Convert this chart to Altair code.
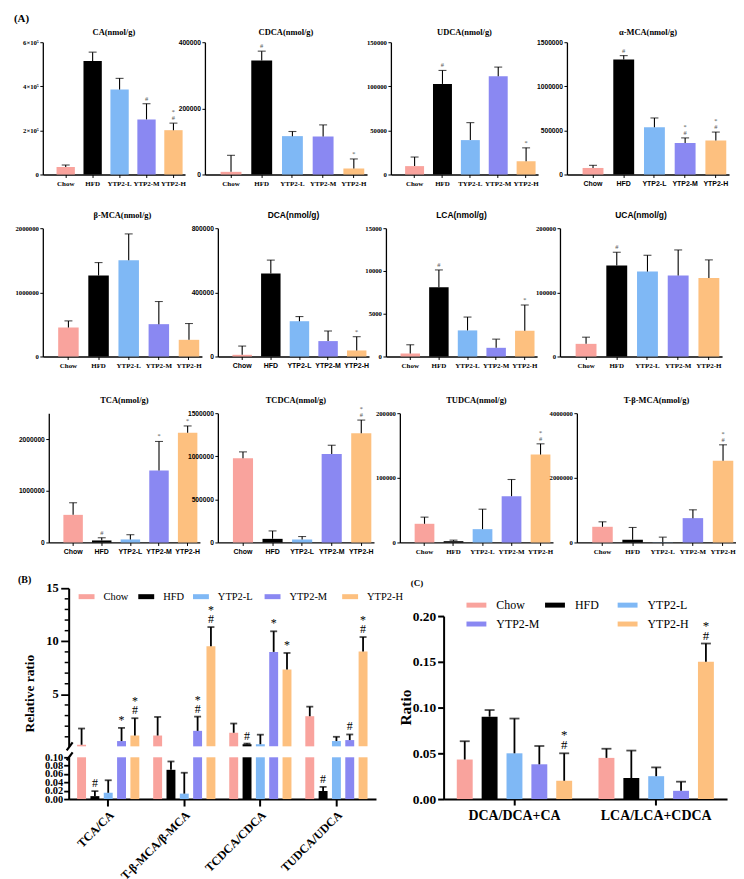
import altair as alt
import pandas as pd

SERIF = "Liberation Serif"
SANS = "Liberation Sans"

GROUPS = ["Chow", "HFD", "YTP2-L", "YTP2-M", "YTP2-H"]
COLORS = ["#F9A39D", "#000000", "#7FB8F5", "#8A88F2", "#FDC07F"]
UDCA_LABELS = ["Chow", "HFD", "TYP2-L", "YTP2-M", "YTP2-H"]

# ---------------- Panel A (mean, SD, significance) ----------------
CA_mean = [34000, 515000, 386000, 250000, 201000]
CA_sd = [9000, 40000, 50000, 71000, 32000]
CA_sig = ["", "", "", "#", "*#"]

CDCA_mean = [8000, 345000, 116000, 115000, 18000]
CDCA_sd = [50000, 28000, 14000, 35000, 29000]
CDCA_sig = ["", "#", "", "", "*"]

UDCA_mean = [9500, 102700, 39000, 111500, 14900]
UDCA_sd = [10300, 15300, 19800, 10300, 15300]
UDCA_sig = ["", "#", "", "", "*"]

aMCA_mean = [74000, 1304000, 537000, 356000, 385000]
aMCA_sd = [30000, 44000, 104000, 59000, 96000]
aMCA_sig = ["", "#", "", "*#", "*#"]

bMCA_mean = [452000, 1262000, 1500000, 504000, 260000]
bMCA_sd = [103000, 202000, 411000, 353000, 254000]
bMCA_sig = ["", "", "", "", ""]

DCA_mean = [10500, 517000, 220000, 96000, 37700]
DCA_sd = [54500, 84000, 29000, 63000, 85800]
DCA_sig = ["", "", "", "", "*"]

LCA_mean = [350, 8090, 3050, 1015, 3010]
LCA_sd = [1020, 2030, 1560, 1015, 3010]
LCA_sig = ["", "#", "", "", "*"]

UCA_mean = [19700, 141700, 132400, 126200, 122500]
UCA_sd = [10400, 20800, 25400, 39900, 28100]
UCA_sig = ["", "#", "", "", ""]

TCA_mean = [534000, 39000, 58600, 1393000, 2122000]
TCA_sd = [234000, 52000, 91400, 560000, 131000]
TCA_sig = ["", "#", "", "*", "*"]

TCDCA_mean = [978000, 42000, 34500, 1025000, 1266000]
TCDCA_sd = [73000, 92000, 34500, 103000, 154000]
TCDCA_sig = ["", "", "", "", "*#"]

TUDCA_mean = [28900, 2000, 20600, 71600, 136000]
TUDCA_sd = [10300, 1600, 30900, 25800, 16600]
TUDCA_sig = ["", "", "", "", "*#"]

TbMCA_mean = [485000, 82000, 5000, 753000, 2526000]
TbMCA_sd = [154000, 382000, 160000, 257000, 495000]
TbMCA_sig = ["", "", "", "", "*#"]

# ---------------- Panel B (relative ratios) ----------------
B_CATS = ["TCA/CA", "T-β-MCA/β-MCA", "TCDCA/CDCA", "TUDCA/UDCA"]
B_Chow_mean = [0.25, 1.12, 1.38, 2.94]
B_Chow_sd = [1.53, 1.75, 0.87, 0.90]
B_Chow_sig = ["", "", "", ""]
B_HFD_mean = [0.007, 0.070, 0.30, 0.019]
B_HFD_sd = [0.012, 0.020, 0.06, 0.010]
B_HFD_sig = ["#", "", "#", "#"]
B_L_mean = [0.015, 0.013, 0.30, 0.60]
B_L_sd = [0.030, 0.050, 0.90, 0.40]
B_L_sig = ["", "", "", ""]
B_M_mean = [0.60, 1.56, 9.00, 0.69]
B_M_sd = [1.24, 1.34, 1.94, 0.53]
B_M_sig = ["*", "*#", "*", "#"]
B_H_mean = [1.12, 9.53, 7.34, 9.03]
B_H_sd = [1.63, 1.81, 1.56, 1.37]
B_H_sig = ["*#", "*#", "*", "*#"]
B_BREAK = 0.1
B_MAJOR = [5, 10, 15]
B_MINOR = [1, 2, 3, 4, 6, 7, 8, 9, 11, 12, 13, 14]

# ---------------- Panel C (ratios) ----------------
C_CATS = ["DCA/DCA+CA", "LCA/LCA+CDCA"]
C_Chow_mean = [0.0432, 0.045]
C_Chow_sd = [0.020, 0.010]
C_HFD_mean = [0.090, 0.023]
C_HFD_sd = [0.0073, 0.030]
C_L_mean = [0.050, 0.025]
C_L_sd = [0.038, 0.0096]
C_M_mean = [0.038, 0.009]
C_M_sd = [0.020, 0.010]
C_H_mean = [0.020, 0.150]
C_H_sd = [0.030, 0.020]
C_sig = {"YTP2-H": ["*#", "*#"]}


def _pt(y):
    return (alt.Chart(pd.DataFrame({"v": [0]}))
            .mark_point(size=1, opacity=0, strokeWidth=0)
            .encode(x=alt.value(0), y=alt.value(y)))


def spacer(w=1, h=1):
    return _pt(0).properties(width=w, height=h)


def label_text(txt, x, y, size, weight="bold", font=SERIF, angle=0, align="left"):
    return (alt.Chart(pd.DataFrame({"t": [txt]}))
            .mark_text(font=font, fontSize=size, fontWeight=weight, color="black",
                       align=align, baseline="middle", angle=angle)
            .encode(x=alt.value(x), y=alt.value(y), text="t:N"))


def lead(w, h, top, bottom, extra=()):
    # invisible anchors that fix the row's extent above and below the plots
    return alt.layer(_pt(-top), _pt(h + bottom), *extra).properties(width=w, height=h)


def sig_rows(cats, tops, sigs, series=None):
    rows = []
    for c, t, s in zip(cats, tops, sigs):
        for k, ch in enumerate(reversed(s)):
            r = {"cat": c, "top": t, "sym": ch, "rank": k}
            if series is not None:
                r["series"] = series
            rows.append(r)
    return rows


def label_map_expr(keys, labels):
    expr = "datum.label"
    for k, lab in zip(keys, labels):
        if k != lab:
            expr = f"datum.value === '{k}' ? '{lab}' : " + expr
    return expr


def panel_a(title, mean, sd, sig, ymax, ystep, w, h, labels=GROUPS,
            tfont=SERIF, xfont=SERIF, yfont=SERIF, lexpr=None, tpos=10):
    top = [m + s for m, s in zip(mean, sd)]
    df = pd.DataFrame({"cat": GROUPS, "mean": mean, "top": top})
    xaxis = alt.Axis(title=None, labelAngle=0, labelFont=xfont, labelFontSize=7,
                     labelFontWeight="bold", labelColor="black", labelPadding=2,
                     labelExpr=label_map_expr(GROUPS, labels),
                     tickSize=3, tickWidth=1, tickColor="black",
                     domainColor="black", domainWidth=1.3)
    ykw = dict(title=None, values=list(range(0, ymax + 1, ystep)), format="d",
               labelFont=yfont, labelFontSize=6.7, labelFontWeight="bold",
               labelColor="black", labelPadding=1.5, tickSize=3, tickWidth=1,
               tickColor="black", domainColor="black", domainWidth=1.3, grid=False,
               labelOverlap=False)
    if lexpr:
        ykw["labelExpr"] = lexpr
    x = alt.X("cat:N", sort=GROUPS,
              scale=alt.Scale(paddingInner=0.32, paddingOuter=0.3, align=0.85),
              axis=xaxis)
    xs = alt.X("cat:N", sort=GROUPS)
    y = alt.Y("mean:Q", scale=alt.Scale(domain=[0, ymax], nice=False),
              axis=alt.Axis(**ykw))
    base = alt.Chart(df)
    bars = base.mark_bar().encode(
        x=x, y=y,
        color=alt.Color("cat:N", scale=alt.Scale(domain=GROUPS, range=COLORS), legend=None))
    err = base.mark_rule(color="black", strokeWidth=1.1).encode(x=xs, y="mean:Q", y2="top:Q")
    cap = base.mark_tick(color="black", thickness=1.1, size=8).encode(x=xs, y="top:Q")
    layers = [bars, err, cap]
    rows = sig_rows(GROUPS, top, sig)
    if rows:
        sdf = pd.DataFrame(rows)
        for k, dy in ((0, -2), (1, -8)):
            sub = sdf[sdf["rank"] == k]
            if len(sub):
                layers.append(
                    alt.Chart(sub).mark_text(font=SERIF, fontSize=6.5, color="#555",
                                             baseline="bottom", dy=dy)
                    .encode(x=xs, y="top:Q", text="sym:N"))
    layers.append(label_text(title, w / 2, -tpos, 8.5, font=tfont, align="center"))
    return alt.layer(*layers).properties(width=w, height=h)


CA_EXPR = "datum.value == 0 ? '0' : (datum.value / 100000) + '×10⁵'"

H1, H2, H3, H4 = 133, 129, 130, 212
T1, T2, T3, T4 = 31, 20, 20, 20
row1 = alt.hconcat(
    lead(29, H1, T1, 54 - T2 - 2, extra=[label_text("(A)", 0, -23, 11)]),
    panel_a("CA(nmol/g)", CA_mean, CA_sd, CA_sig, 600000, 200000, 143, H1, lexpr=CA_EXPR),
    spacer(w=20),
    panel_a("CDCA(nmol/g)", CDCA_mean, CDCA_sd, CDCA_sig, 400000, 100000, 163, H1,
            yfont=SANS),
    spacer(w=24),
    panel_a("UDCA(nmol/g)", UDCA_mean, UDCA_sd, UDCA_sig, 150000, 50000, 148, H1,
            labels=UDCA_LABELS),
    spacer(w=29),
    panel_a("α-MCA(nmol/g)", aMCA_mean, aMCA_sd, aMCA_sig, 1500000, 500000, 163, H1,
            xfont=SANS, yfont=SANS),
    spacing=0, bounds="flush")

row2 = alt.hconcat(
    lead(29, H2, T2, 55 - T3),
    panel_a("β-MCA(nmol/g)", bMCA_mean, bMCA_sd, bMCA_sig, 2000000, 500000, 160, H2, tpos=13),
    spacer(w=16),
    panel_a("DCA(nmol/g)", DCA_mean, DCA_sd, DCA_sig, 800000, 200000, 152, H2,
            tfont=SANS, xfont=SANS, yfont=SANS, tpos=13),
    spacer(w=17),
    panel_a("LCA(nmol/g)", LCA_mean, LCA_sd, LCA_sig, 15000, 5000, 152, H2,
            tfont=SANS, tpos=13),
    spacer(w=23),
    panel_a("UCA(nmol/g)", UCA_mean, UCA_sd, UCA_sig, 200000, 50000, 163, H2,
            tfont=SANS, tpos=13),
    spacing=0, bounds="flush")

row3 = alt.hconcat(
    lead(35, H3, T3, 44 - T4),
    panel_a("TCA(nmol/g)", TCA_mean, TCA_sd, TCA_sig, 2500000, 500000, 152, H3,
            xfont=SANS, yfont=SANS, tpos=13),
    spacer(w=18),
    panel_a("TCDCA(nmol/g)", TCDCA_mean, TCDCA_sd, TCDCA_sig, 1500000, 500000, 157, H3,
            xfont=SANS, yfont=SANS, tpos=13),
    spacer(w=26),
    panel_a("TUDCA(nmol/g)", TUDCA_mean, TUDCA_sd, TUDCA_sig, 200000, 50000, 154, H3, tpos=13),
    spacer(w=24),
    panel_a("T-β-MCA(nmol/g)", TbMCA_mean, TbMCA_sd, TbMCA_sig, 4000000, 1000000, 160, H3, tpos=13),
    spacing=0, bounds="flush")

# ---------------- Panel B (broken y axis, two scales in one view) ----------------
B_series = [
    (B_Chow_mean, B_Chow_sd, B_Chow_sig),
    (B_HFD_mean, B_HFD_sd, B_HFD_sig),
    (B_L_mean, B_L_sd, B_L_sig),
    (B_M_mean, B_M_sd, B_M_sig),
    (B_H_mean, B_H_sd, B_H_sig),
]
b_rows, b_sig = [], []
for g, (mn, sdv, sg) in zip(GROUPS, B_series):
    tops = [m + s for m, s in zip(mn, sdv)]
    for c, m, t in zip(B_CATS, mn, tops):
        b_rows.append({"cat": c, "series": g, "mean": m, "top": t,
                       "ulo": max(m, B_BREAK), "lmean": min(m, B_BREAK), "brk": B_BREAK})
    b_sig += sig_rows(B_CATS, tops, sg, series=g)
bdf = pd.DataFrame(b_rows)
bsig = pd.DataFrame(b_sig)

B_W = 309
B_UH, B_LTOP = 159, 170

bcol = alt.Color("series:N", scale=alt.Scale(domain=GROUPS, range=COLORS), legend=None)
bxo = alt.XOffset("series:N", sort=GROUPS,
                  scale=alt.Scale(paddingInner=0.33, paddingOuter=0.52))
bxos = alt.XOffset("series:N", sort=GROUPS)
b_xaxis = alt.Axis(
    title=None, labelAngle=-45, labelFont=SERIF, labelFontSize=12, labelFontWeight="bold",
    labelColor="black", labelPadding=3, tickSize=7, tickWidth=2, tickColor="black",
    domainColor="black", domainWidth=2)
bx = alt.X("cat:N", sort=B_CATS, scale=alt.Scale(paddingInner=0, paddingOuter=0.02), axis=b_xaxis)
bxs = alt.X("cat:N", sort=B_CATS)

upper_axis = alt.Axis(
    title=None, orient="left", values=B_MAJOR, labels=False,
    tickSize=8, tickWidth=1.8, tickColor="black",
    domainColor="black", domainWidth=2, grid=False)
upper_scale = alt.Scale(domain=[B_BREAK, 15], range=[B_UH, 0], nice=False, zero=False)

ub = alt.Chart(bdf)
up_high = ub.transform_filter(f"datum.mean > {B_BREAK}")
up_err = ub.transform_filter(f"datum.top > {B_BREAK}")
upper_layers = [
    up_high.mark_bar().encode(x=bx, xOffset=bxo,
                              y=alt.Y("mean:Q", scale=upper_scale, axis=upper_axis),
                              y2="brk:Q", color=bcol),
    up_err.mark_rule(color="black", strokeWidth=1.8).encode(
        x=bxs, xOffset=bxos, y="ulo:Q", y2="top:Q"),
    up_err.mark_tick(color="black", thickness=1.8, size=7).encode(
        x=bxs, xOffset=bxos, y="top:Q"),
    alt.Chart(pd.DataFrame({"mean": B_MINOR})).mark_rule(color="black", strokeWidth=1.5)
    .encode(x=alt.value(-4), x2=alt.value(0), y="mean:Q"),
    alt.Chart(pd.DataFrame({"mean": B_MAJOR, "lab": [str(v) for v in B_MAJOR]}))
    .mark_text(font=SERIF, fontSize=12.5, fontWeight="bold", color="black",
               align="right", baseline="middle")
    .encode(x=alt.value(-10), y="mean:Q", text="lab:N"),
]
usig = bsig[bsig["top"] > B_BREAK]
for k, dy in ((0, -1), (1, -10)):
    sub = usig[usig["rank"] == k]
    if len(sub):
        upper_layers.append(alt.Chart(sub).mark_text(font=SERIF, fontSize=12, color="black",
                                                     baseline="bottom", dy=dy)
                            .encode(x=bxs, xOffset=bxos, y="top:Q", text="sym:N"))
upper = alt.layer(*upper_layers)

lower_axis = alt.Axis(
    title=None, orient="left", values=[0, 0.02, 0.04, 0.06, 0.08, 0.1], format=".2f",
    labelFont=SERIF, labelFontSize=10.5, labelFontWeight="bold", labelColor="black",
    labelPadding=1, tickSize=5, tickWidth=1.8, tickColor="black", labelOverlap=False,
    domainColor="black", domainWidth=2, grid=False)
lower_scale = alt.Scale(domain=[0, B_BREAK], range=[H4, B_LTOP], nice=False)
lb = alt.Chart(bdf)
low_err = lb.transform_filter(f"datum.top <= {B_BREAK}")
lower_layers = [
    lb.mark_bar().encode(x=bx, xOffset=bxo,
                         y=alt.Y("lmean:Q", scale=lower_scale, axis=lower_axis), color=bcol),
    low_err.mark_rule(color="black", strokeWidth=1.8).encode(
        x=bxs, xOffset=bxos, y="mean:Q", y2="top:Q"),
    low_err.mark_tick(color="black", thickness=1.8, size=7).encode(
        x=bxs, xOffset=bxos, y="top:Q"),
]
lsig = bsig[bsig["top"] <= B_BREAK]
for k, dy in ((0, -1), (1, -10)):
    sub = lsig[lsig["rank"] == k]
    if len(sub):
        lower_layers.append(alt.Chart(sub).mark_text(font=SERIF, fontSize=12, color="black",
                                                     baseline="bottom", dy=dy)
                            .encode(x=bxs, xOffset=bxos, y="top:Q", text="sym:N"))
lower = alt.layer(*lower_layers)

b_deco = []
LEG_B_X = [10, 70, 125, 197, 275]
for i, g in enumerate(GROUPS):
    b_deco.append(
        alt.Chart(pd.DataFrame({"t": [g]})).mark_rect(color=COLORS[i])
        .encode(x=alt.value(LEG_B_X[i]), x2=alt.value(LEG_B_X[i] + 16),
                y=alt.value(6), y2=alt.value(11)))
    b_deco.append(
        alt.Chart(pd.DataFrame({"t": [g]})).mark_text(font=SERIF, fontSize=10.5, color="black",
                                                      align="left", baseline="middle")
        .encode(x=alt.value(LEG_B_X[i] + 25), y=alt.value(8.5), text="t:N"))
b_deco.append(label_text("(B)", -51, -8, 10))
b_deco.append(label_text("Relative ratio", -39, 106, 13.5, angle=270, align="center"))
for y0 in (B_UH, B_LTOP - 1):
    b_deco.append(
        alt.Chart(pd.DataFrame({"t": [0]})).mark_rule(color="black", strokeWidth=2.2)
        .encode(x=alt.value(-2), x2=alt.value(4), y=alt.value(y0 + 4), y2=alt.value(y0 - 4)))

panel_b = alt.layer(upper, lower, *b_deco).resolve_scale(y="independent").properties(
    width=B_W, height=H4)

# ---------------- Panel C ----------------
C_series = [
    (C_Chow_mean, C_Chow_sd), (C_HFD_mean, C_HFD_sd), (C_L_mean, C_L_sd),
    (C_M_mean, C_M_sd), (C_H_mean, C_H_sd),
]
c_rows, c_sig = [], []
for g, (mn, sdv) in zip(GROUPS, C_series):
    tops = [m + s for m, s in zip(mn, sdv)]
    for c, m, t in zip(C_CATS, mn, tops):
        c_rows.append({"cat": c, "series": g, "mean": m, "top": t})
    c_sig += sig_rows(C_CATS, tops, C_sig.get(g, ["", ""]), series=g)
cdf = pd.DataFrame(c_rows)
csig = pd.DataFrame(c_sig)

C_W, C_TOP = 285, 28
cx = alt.X("cat:N", sort=C_CATS, scale=alt.Scale(paddingInner=0, paddingOuter=0.0),
           axis=alt.Axis(title=None, labelAngle=0, labelFont=SERIF, labelFontSize=14,
                         labelFontWeight="bold", labelColor="black", labelPadding=4,
                         tickSize=6, tickWidth=2, tickColor="black",
                         domainColor="black", domainWidth=2))
cxs = alt.X("cat:N", sort=C_CATS)
cxo = alt.XOffset("series:N", sort=GROUPS, scale=alt.Scale(paddingInner=0.36, paddingOuter=0.53))
cy = alt.Y("mean:Q", scale=alt.Scale(domain=[0, 0.2], range=[H4, C_TOP], nice=False),
           axis=alt.Axis(title=None, values=[0, 0.05, 0.1, 0.15, 0.2], format=".2f",
                         labelFont=SERIF, labelFontSize=13.5, labelFontWeight="bold",
                         labelColor="black", labelPadding=2, tickSize=6, tickWidth=2,
                         tickColor="black", domainColor="black", domainWidth=2, grid=False,
                         labelOverlap=False))
cbase = alt.Chart(cdf)
c_layers = [
    cbase.mark_bar().encode(x=cx, xOffset=cxo, y=cy, color=bcol),
    cbase.mark_rule(color="black", strokeWidth=1.8).encode(x=cxs, xOffset=bxos, y="mean:Q", y2="top:Q"),
    cbase.mark_tick(color="black", thickness=1.8, size=10).encode(x=cxs, xOffset=bxos, y="top:Q"),
]
for k, dy in ((0, -1), (1, -11)):
    sub = csig[csig["rank"] == k]
    if len(sub):
        c_layers.append(alt.Chart(sub).mark_text(font=SERIF, fontSize=13, color="black",
                                                 baseline="bottom", dy=dy)
                        .encode(x=cxs, xOffset=bxos, y="top:Q", text="sym:N"))
LEG_C_POS = [(23, 17), (102, 17), (175, 17), (23, 36), (175, 36)]
for i, g in enumerate(GROUPS):
    lx, ly = LEG_C_POS[i]
    c_layers.append(
        alt.Chart(pd.DataFrame({"t": [g]})).mark_rect(color=COLORS[i])
        .encode(x=alt.value(lx), x2=alt.value(lx + 20), y=alt.value(ly - 2.5), y2=alt.value(ly + 2.5)))
    c_layers.append(
        alt.Chart(pd.DataFrame({"t": [g]})).mark_text(font=SERIF, fontSize=12, color="black",
                                                      align="left", baseline="middle")
        .encode(x=alt.value(lx + 30), y=alt.value(ly), text="t:N"))
c_layers.append(label_text("(C)", -33, -5, 9))
c_layers.append(label_text("Ratio", -38, 120, 15.5, angle=270, align="center"))
panel_c = alt.layer(*c_layers).properties(width=C_W, height=H4)

row4 = alt.hconcat(lead(55, H4, T4, 10), panel_b, spacer(w=68), panel_c,
                   spacing=0, bounds="flush").resolve_scale(xOffset="independent")

chart = alt.vconcat(row1, row2, row3, row4, spacing=0).properties(
    padding={"left": 5, "top": 0, "right": 0, "bottom": 0}
).configure_view(stroke=None).configure_axis(grid=False)

chart.save("out.html", embed_options={"renderer": "svg", "actions": False})
